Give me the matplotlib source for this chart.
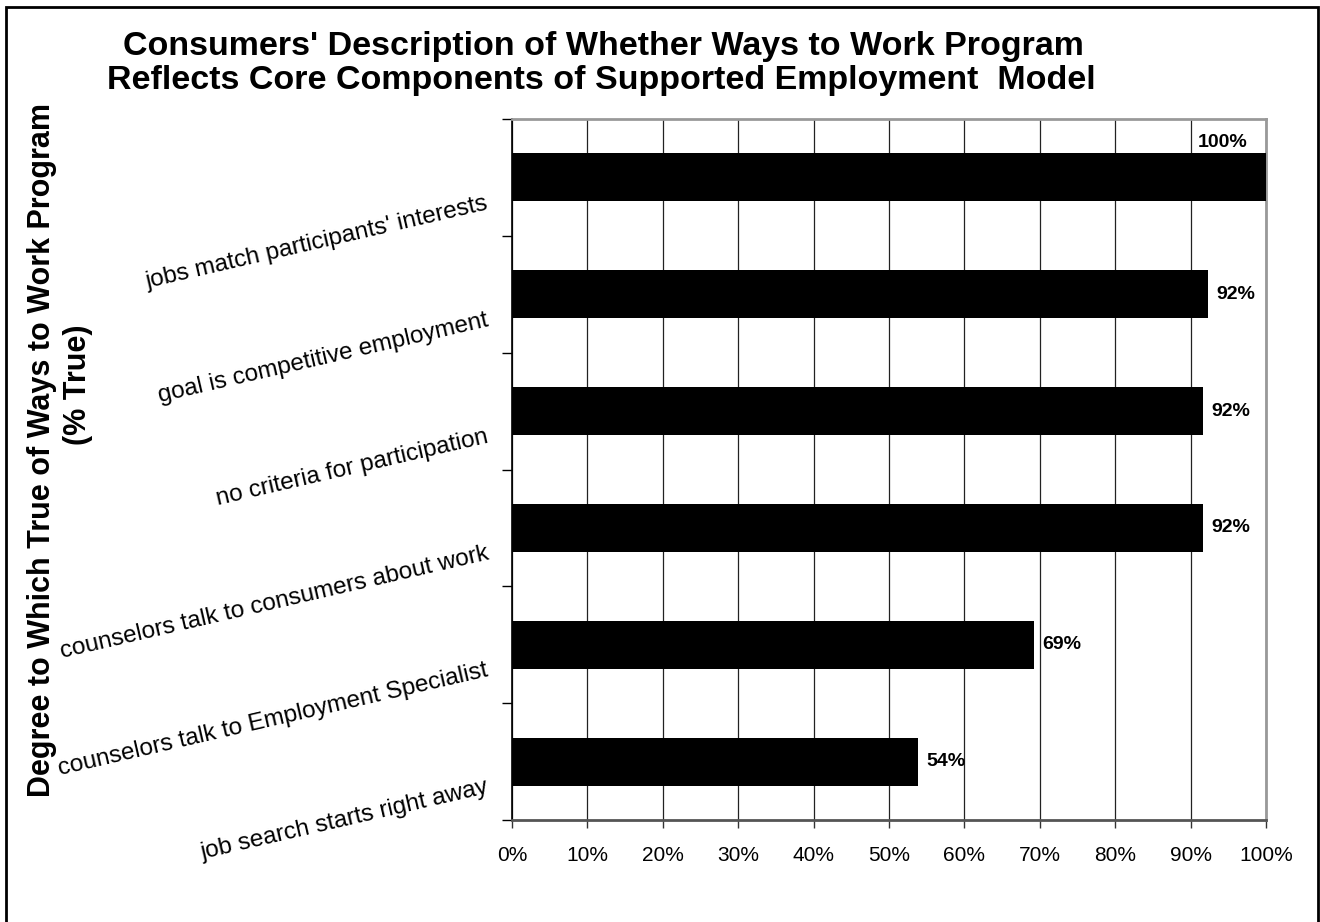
import matplotlib
matplotlib.use('Agg')
import matplotlib.pyplot as plt
import matplotlib.patches as mpatches
import matplotlib.transforms as mtransforms
import numpy as np

plt.rcParams['font.family'] = ['Liberation Sans', 'DejaVu Sans']

# data (top to bottom)
categories = ["jobs match participants' interests",
              "goal is competitive employment",
              "no criteria for participation",
              "counselors talk to consumers about work",
              "counselors talk to Employment Specialist",
              "job search starts right away"]
values = [100.0, 92.3, 91.7, 91.7, 69.2, 53.8]
value_labels = ['100%', '92%', '92%', '92%', '69%', '54%']
xticks = np.arange(0, 101, 10)

fig = plt.figure(figsize=(13.2, 9.22), dpi=100)
ax = fig.add_axes([512/1320, 1-820/922, (1266-512)/1320, (820-119)/922])

ypos = np.arange(len(categories))
ax.barh(ypos, values, height=0.41, color='black', zorder=3)

ax.set_xlim(0, 100)
ax.set_ylim(len(categories)-0.5, -0.5)

ax.set_xticks(xticks)
ax.set_xticklabels(['%d%%' % t for t in xticks], fontsize=15)
ax.tick_params(axis='x', direction='out', length=6, width=1, pad=13, color='#333333')

# major ticks at category boundaries, labels on minor ticks at centers
ax.set_yticks(np.arange(-0.5, len(categories), 1.0))
ax.set_yticklabels([])
ax.tick_params(axis='y', which='major', direction='out', length=7, width=1)
ax.set_yticks(ypos, minor=True)
ax.set_yticklabels(categories, minor=True, fontsize=17.5, rotation=13,
                   ha='right', va='top', rotation_mode='anchor')
ax.tick_params(axis='y', which='minor', length=0, pad=19)
shift = mtransforms.ScaledTranslation(0, -0.15, fig.dpi_scale_trans)
for lab in ax.get_yticklabels(minor=True):
    lab.set_transform(lab.get_transform() + shift)

ax.grid(axis='x', color='#222222', linewidth=0.9, zorder=0)

ax.spines['left'].set_color('black')
ax.spines['left'].set_linewidth(1.2)
ax.spines['bottom'].set_color('#555555')
ax.spines['bottom'].set_linewidth(2)
for s in ['top', 'right']:
    ax.spines[s].set_color('#999999')
    ax.spines[s].set_linewidth(2)

for y, v, lab in zip(ypos, values, value_labels):
    if v >= 100:
        ax.annotate(lab, (v, y - 0.205), xytext=(-13, 2), textcoords='offset points',
                    ha='right', va='bottom', fontsize=14, fontweight='bold')
    else:
        ax.annotate(lab, (v, y), xytext=(6, 0), textcoords='offset points',
                    ha='left', va='center', fontsize=14, fontweight='bold')

fig.text(603/1320, 1-47/922, "Consumers' Description of Whether Ways to Work Program",
         ha='center', va='center', fontsize=24.5, fontweight='bold')
fig.text(601/1320, 1-81/922, "Reflects Core Components of Supported Employment  Model",
         ha='center', va='center', fontsize=24.5, fontweight='bold')

fig.text(42/1320, 1-450/922, "Degree to Which True of Ways to Work Program",
         ha='center', va='center', rotation=90, fontsize=22, fontweight='bold')
fig.text(78/1320, 1-385/922, "(% True)",
         ha='center', va='center', rotation=90, fontsize=22, fontweight='bold')

# outer frame of the chart
fig.patches.append(mpatches.Rectangle((6/1320, -0.05), (1318-6)/1320, 1-7/922+0.05,
                                      transform=fig.transFigure, fill=False,
                                      edgecolor='black', linewidth=2))

fig.savefig('out.png', dpi=100)
